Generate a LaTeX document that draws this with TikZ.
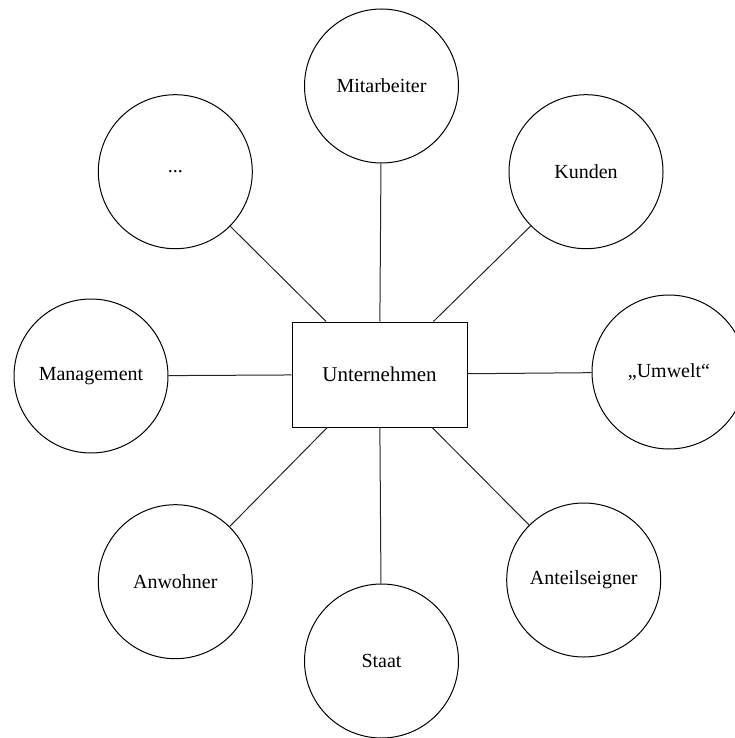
\documentclass[tikz,border=0pt]{standalone}
\usepackage{fontspec}
\setmainfont{Liberation Serif}
\begin{document}
\begin{tikzpicture}[x=1pt,y=-1pt,
  stake/.style={draw=black,line width=1pt,circle,minimum size=154pt,inner sep=0pt,font=\fontsize{20}{24}\selectfont},
  firm/.style={draw=black,line width=1pt,rectangle,minimum width=175pt,minimum height=105pt,inner sep=0pt,font=\fontsize{21}{25}\selectfont},
  link/.style={draw=black!85,line width=1pt}]
\useasboundingbox (0,0) rectangle (734,738);
\node[firm] (u) at (379.5,374.5) {Unternehmen};
\node[stake] (mit) at (381.5,86) {Mitarbeiter};
\node[stake] (kun) at (586,171.7) {Kunden};
\node[stake] (umw) at (669,372) {„Umwelt“};
\node[stake] (ant) at (583.7,580) {Anteilseigner};
\node[stake] (sta) at (381.5,661) {Staat};
\node[stake] (anw) at (175.3,581.7) {Anwohner};
\node[stake] (man) at (91,376) {Management};
\node[stake] (dots) at (175.3,171.7) {...};
\foreach \n in {mit,kun,umw,ant,sta,anw,man,dots}
  \draw[link] (u) -- (\n);
\end{tikzpicture}
\end{document}
